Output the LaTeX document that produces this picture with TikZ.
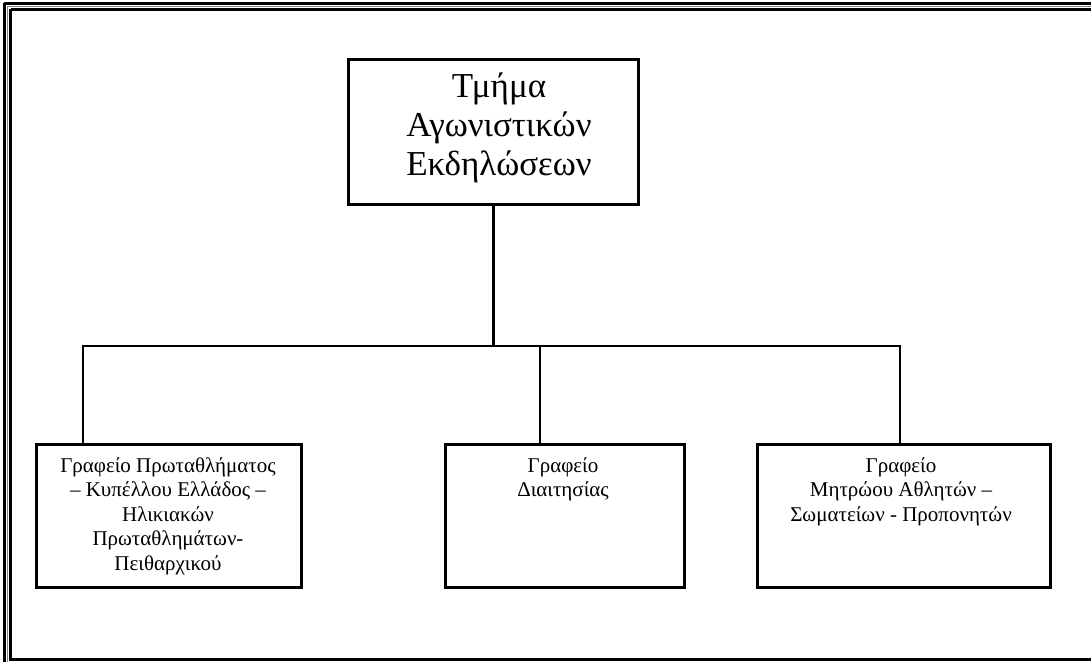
\documentclass[tikz,border=0pt]{standalone}
\usepackage{fontspec}
\setmainfont{Liberation Serif}
\tikzset{
  orgbox/.style={draw=black, line width=2.5pt, inner sep=0pt, anchor=north west},
  toptext/.style={font=\fontsize{35}{39}\selectfont, align=center, inner sep=0pt, anchor=north},
  subtext/.style={font=\fontsize{21}{24.5}\selectfont, align=center, inner sep=0pt, anchor=north},
  link/.style={draw=black, line width=2.5pt}
}
\begin{document}
\begin{tikzpicture}[x=1pt,y=-1pt]
\useasboundingbox (0,0) rectangle (1091,661);
% page frame
\draw[line width=3pt] (4,3.5) -- (4,700) (4,3.5) -- (1200,3.5);
\draw[line width=0.8pt, gray] (7,6.5) -- (7,700) (7,6.5) -- (1200,6.5);
\draw[line width=2.5pt] (10.5,9.5) -- (10.5,659.5) -- (1200,659.5) (10.5,9.5) -- (1200,9.5);
% boxes
\node[orgbox, minimum width=290pt, minimum height=145pt] (top) at (347,58) {};
\node[orgbox, minimum width=265pt, minimum height=143pt] (b1) at (35,443) {};
\node[orgbox, minimum width=239pt, minimum height=143pt] (b2) at (444,443) {};
\node[orgbox, minimum width=293pt, minimum height=143pt] (b3) at (756,443) {};
% texts
\node[toptext] (ttop) at (499,73) {Τμήμα\\Αγωνιστικών\\Εκδηλώσεων};
\node[subtext] (t1) at (168,457) {Γραφείο Πρωταθλήματος\\– Κυπέλλου Ελλάδος –\\Ηλικιακών\\Πρωταθλημάτων-\\Πειθαρχικού};
\node[subtext] (t2) at (563,457) {Γραφείο\\Διαιτησίας};
\node[subtext] (t3) at (901,457) {Γραφείο\\Μητρώου Αθλητών –\\Σωματείων - Προπονητών};
% connectors
\coordinate (jl) at (83,346);
\coordinate (jm) at (540,346);
\coordinate (jr) at (900,346);
\draw[link] (top.south) -- (top.south |- jl);
\draw[link, line cap=rect] (jl) -- (jr);
\draw[link] (jl) -- (jl |- b1.north);
\draw[link] (jm) -- (jm |- b2.north);
\draw[link] (jr) -- (jr |- b3.north);
\end{tikzpicture}
\end{document}
